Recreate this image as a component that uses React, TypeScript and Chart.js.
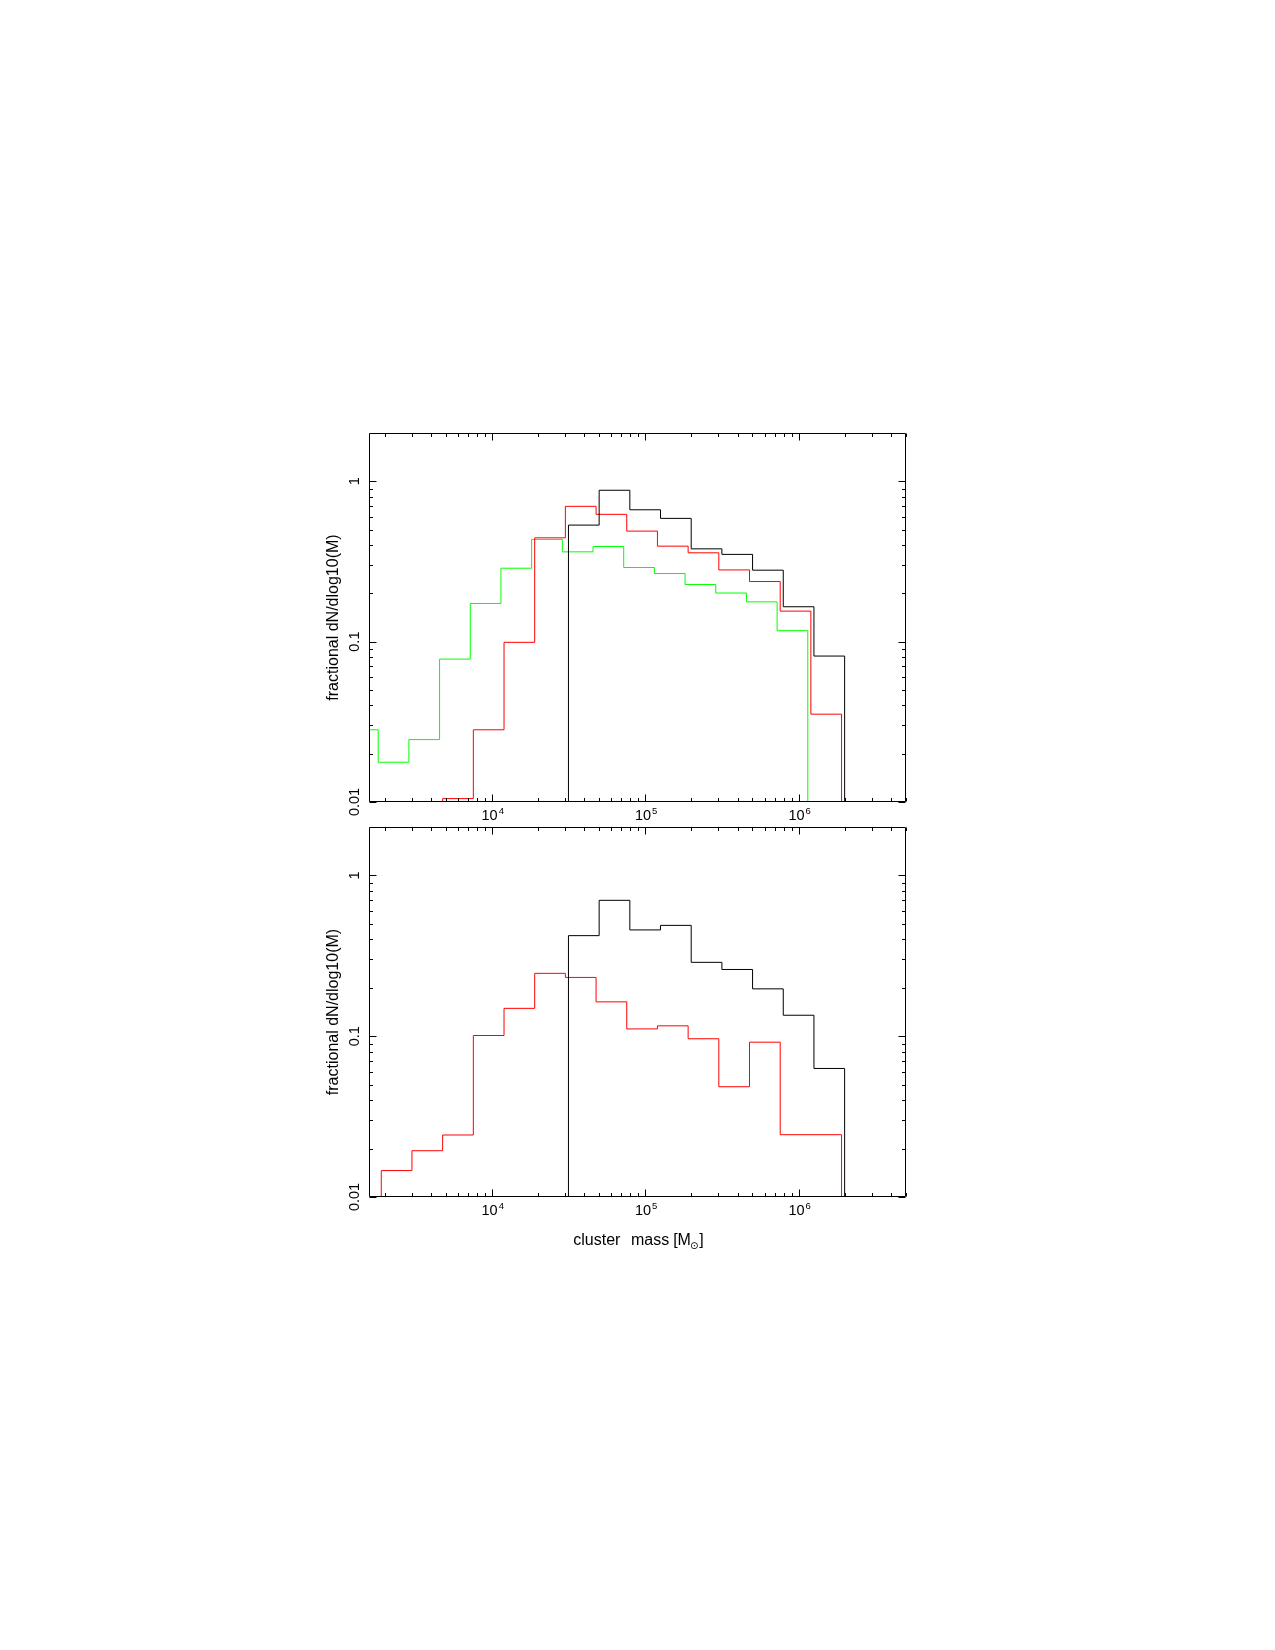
import React, { useEffect, useRef } from "react";
import { Chart, registerables } from "chart.js";

Chart.register(...registerables);

// ---- data (bin edges given as log10 of cluster mass, values = fractional dN/dlog10(M)) ----
const topGreenLogEdges = [3.06, 3.26, 3.46, 3.66, 3.86, 4.06, 4.26, 4.46, 4.66, 4.86, 5.06, 5.26, 5.46, 5.66, 5.86, 6.06];
const topGreenValues = [0.0282, 0.0177, 0.0245, 0.0778, 0.173, 0.287, 0.434, 0.363, 0.392, 0.29, 0.266, 0.227, 0.201, 0.177, 0.117];

const topRedLogEdges = [3.68, 3.88, 4.08, 4.28, 4.48, 4.68, 4.88, 5.08, 5.28, 5.48, 5.68, 5.88, 6.08, 6.28];
const topRedValues = [0.0105, 0.0282, 0.099, 0.444, 0.698, 0.622, 0.489, 0.394, 0.358, 0.28, 0.237, 0.155, 0.0353];

const topBlackLogEdges = [4.5, 4.7, 4.9, 5.1, 5.3, 5.5, 5.7, 5.9, 6.1, 6.3];
const topBlackValues = [0.533, 0.879, 0.664, 0.587, 0.379, 0.35, 0.279, 0.165, 0.0813];

const bottomRedLogEdges = [3.28, 3.48, 3.68, 3.88, 4.08, 4.28, 4.48, 4.68, 4.88, 5.08, 5.28, 5.48, 5.68, 5.88, 6.08, 6.28];
const bottomRedValues = [0.0146, 0.0194, 0.0243, 0.101, 0.149, 0.246, 0.232, 0.1635, 0.111, 0.116, 0.0964, 0.0485, 0.0918, 0.0244, 0.0244];

const bottomBlackLogEdges = [4.5, 4.7, 4.9, 5.1, 5.3, 5.5, 5.7, 5.9, 6.1, 6.3];
const bottomBlackValues = [0.422, 0.7, 0.458, 0.489, 0.288, 0.26, 0.197, 0.135, 0.063];

// ---- axes ----
const xMinLog = 3.2;
const xMaxLog = 6.7;
const yMin = 0.01;
const yMax = 2;
const xTickValues = [1e4, 1e5, 1e6];
const xTickBase = ["10", "10", "10"];
const xTickExponents = ["4", "5", "6"];
const yTickValues = [0.01, 0.1, 1];
const yTickLabels = ["0.01", "0.1", "1"];
const yTitle = "fractional dN/dlog10(M)";
const xTitleParts = ["cluster", "mass", "[M", "\u2299", "]"];

const FONT = "'Liberation Sans', Arial, sans-serif";

function histPoints(logEdges: number[], values: number[]) {
  const floor = yMin / 10;
  const pts: { x: number; y: number }[] = [];
  pts.push({ x: Math.pow(10, logEdges[0]), y: floor });
  for (let i = 0; i < values.length; i++) {
    pts.push({ x: Math.pow(10, logEdges[i]), y: values[i] });
  }
  pts.push({ x: Math.pow(10, logEdges[values.length]), y: floor });
  return pts;
}

function frameDataset(pts: { x: number; y: number }[], color: string) {
  return {
    data: pts,
    borderColor: color,
    backgroundColor: color,
    borderWidth: 1,
    stepped: true as const,
    fill: false,
    pointRadius: 0,
    tension: 0,
  };
}

function makeAxesPlugin(showXTitle: boolean) {
  return {
    id: "pgAxes",
    afterDraw(chart: any) {
      const { ctx, chartArea: a, scales } = chart;
      const xs = scales.x;
      const ys = scales.y;
      ctx.save();
      ctx.strokeStyle = "#000";
      ctx.fillStyle = "#000";
      ctx.lineWidth = 1;
      const L = a.left + 0.5;
      const R = a.right - 0.5;
      const T = a.top + 0.5;
      const B = a.bottom - 0.5;
      ctx.beginPath();
      ctx.rect(L, T, R - L, B - T);
      ctx.stroke();

      const xMin = Math.pow(10, xMinLog);
      const xMax = Math.pow(10, xMaxLog);
      ctx.beginPath();
      for (let n = 3; n <= 6; n++) {
        for (let k = 1; k <= 9; k++) {
          const v = k * Math.pow(10, n);
          if (v <= xMin || v >= xMax) continue;
          const px = Math.round(xs.getPixelForValue(v)) + 0.5;
          const len = k === 1 ? 7 : 3.5;
          ctx.moveTo(px, B);
          ctx.lineTo(px, B - len);
          ctx.moveTo(px, T);
          ctx.lineTo(px, T + len);
        }
      }
      for (let n = -2; n <= 0; n++) {
        for (let k = 1; k <= 9; k++) {
          const v = k * Math.pow(10, n);
          if (v < yMin || v >= yMax) continue;
          const py = Math.round(ys.getPixelForValue(v)) + 0.5;
          const len = k === 1 ? 7 : 3.5;
          ctx.moveTo(L, py);
          ctx.lineTo(L + len, py);
          ctx.moveTo(R, py);
          ctx.lineTo(R - len, py);
        }
      }
      ctx.stroke();

      // x tick labels
      ctx.textBaseline = "alphabetic";
      ctx.textAlign = "left";
      xTickValues.forEach((v, i) => {
        const px = xs.getPixelForValue(v);
        ctx.font = `14.5px ${FONT}`;
        const wb = ctx.measureText(xTickBase[i]).width;
        ctx.font = `9.5px ${FONT}`;
        const we = ctx.measureText(xTickExponents[i]).width;
        const start = px - (wb + 1 + we) / 2 + 1;
        ctx.font = `14.5px ${FONT}`;
        ctx.fillText(xTickBase[i], start, a.bottom + 18);
        ctx.font = `9.5px ${FONT}`;
        ctx.fillText(xTickExponents[i], start + wb + 1, a.bottom + 12.3);
      });

      // y tick labels (rotated)
      ctx.font = `14.5px ${FONT}`;
      ctx.textAlign = "center";
      yTickValues.forEach((v, i) => {
        const py = ys.getPixelForValue(v);
        ctx.save();
        ctx.translate(a.left - 9.7, py);
        ctx.rotate(-Math.PI / 2);
        ctx.fillText(yTickLabels[i], 0, 0);
        ctx.restore();
      });

      // y title
      ctx.font = `16px ${FONT}`;
      ctx.save();
      ctx.translate(a.left - 30.7, (a.top + a.bottom) / 2);
      ctx.rotate(-Math.PI / 2);
      ctx.textAlign = "center";
      ctx.fillText(yTitle, 0, 0);
      ctx.restore();

      // x title
      if (showXTitle) {
        ctx.textAlign = "left";
        const base = a.bottom + 47.6;
        ctx.font = `16px ${FONT}`;
        const w0 = ctx.measureText(xTitleParts[0]).width;
        const w1 = ctx.measureText(xTitleParts[1]).width;
        const w2 = ctx.measureText(xTitleParts[2]).width;
        const w4 = ctx.measureText(xTitleParts[4]).width;
        ctx.font = `10px 'DejaVu Sans', ${FONT}`;
        const w3 = ctx.measureText(xTitleParts[3]).width;
        const g1 = 10.5;
        const g2 = 4;
        const total = w0 + g1 + w1 + g2 + w2 - 1 + w3 + 1 + w4;
        let x = (a.left + a.right) / 2 + 1 - total / 2;
        ctx.font = `16px ${FONT}`;
        ctx.fillText(xTitleParts[0], x, base);
        x += w0 + g1;
        ctx.fillText(xTitleParts[1], x, base);
        x += w1 + g2;
        ctx.fillText(xTitleParts[2], x, base);
        x += w2 - 1;
        ctx.font = `10px 'DejaVu Sans', ${FONT}`;
        ctx.fillText(xTitleParts[3], x, base + 4);
        x += w3 + 1;
        ctx.font = `16px ${FONT}`;
        ctx.fillText(xTitleParts[4], x, base);
      }
      ctx.restore();
    },
  };
}

function makeConfig(datasets: any[], padding: any, showXTitle: boolean): any {
  return {
    type: "line",
    data: { datasets },
    options: {
      animation: false,
      responsive: false,
      maintainAspectRatio: false,
      events: [],
      layout: { padding },
      plugins: { legend: { display: false }, tooltip: { enabled: false }, title: { display: false } },
      elements: { point: { radius: 0 }, line: { tension: 0 } },
      scales: {
        x: { type: "logarithmic", min: Math.pow(10, xMinLog), max: Math.pow(10, xMaxLog), display: false },
        y: { type: "logarithmic", min: yMin, max: yMax, display: false },
      },
    },
    plugins: [makeAxesPlugin(showXTitle)],
  };
}

export default function App() {
  const topRef = useRef<HTMLCanvasElement>(null);
  const botRef = useRef<HTMLCanvasElement>(null);

  useEffect(() => {
    const top = new Chart(
      topRef.current as HTMLCanvasElement,
      makeConfig(
        [
          frameDataset(histPoints(topBlackLogEdges, topBlackValues), "#000000"),
          frameDataset(histPoints(topRedLogEdges, topRedValues), "#ff0000"),
          frameDataset(histPoints(topGreenLogEdges, topGreenValues), "#00ff00"),
        ],
        { left: 69, right: 34, top: 33, bottom: 22 },
        false
      )
    );
    const bottom = new Chart(
      botRef.current as HTMLCanvasElement,
      makeConfig(
        [
          frameDataset(histPoints(bottomBlackLogEdges, bottomBlackValues), "#000000"),
          frameDataset(histPoints(bottomRedLogEdges, bottomRedValues), "#ff0000"),
        ],
        { left: 69, right: 34, top: 3, bottom: 67 },
        true
      )
    );
    return () => {
      top.destroy();
      bottom.destroy();
    };
  }, []);

  return (
    <div style={{ position: "absolute", left: 0, top: 0, width: 1275, height: 1650, background: "#ffffff" }}>
      <canvas
        ref={topRef}
        width={640}
        height={424}
        style={{ position: "absolute", left: 300, top: 400, width: 640, height: 424 }}
      />
      <canvas
        ref={botRef}
        width={640}
        height={440}
        style={{ position: "absolute", left: 300, top: 824, width: 640, height: 440 }}
      />
    </div>
  );
}
